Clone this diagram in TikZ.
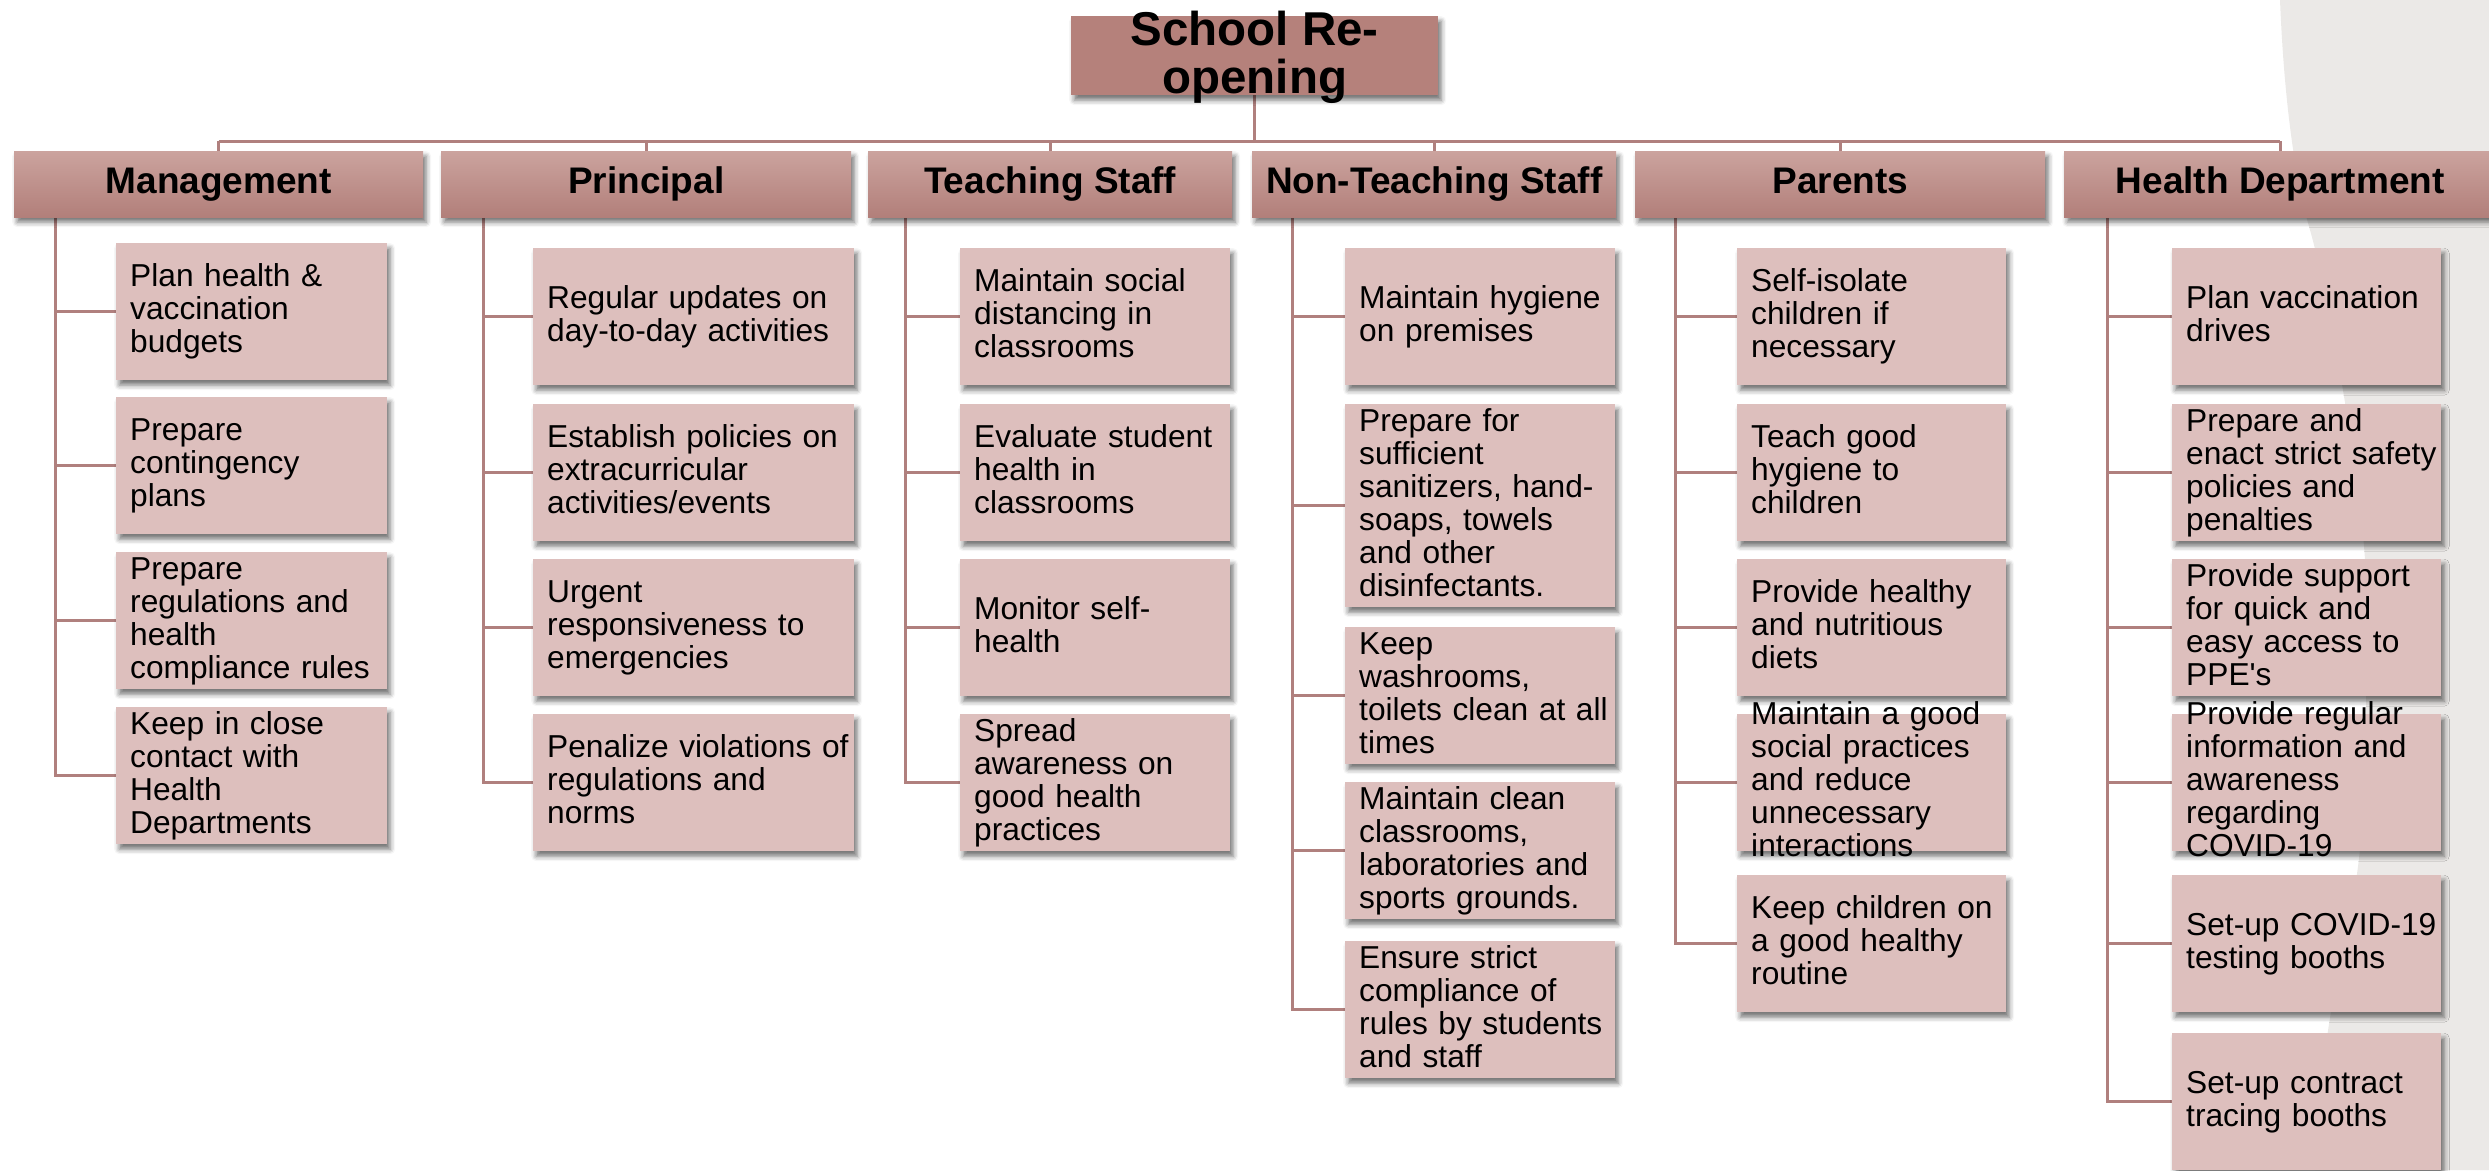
\documentclass[tikz,border=0pt]{standalone}
\usepackage{fontspec}
\setmainfont{Liberation Sans}
\usetikzlibrary{shadows.blur,calc,backgrounds}
\definecolor{hdtop}{RGB}{203,163,158}
\definecolor{hdbot}{RGB}{178,127,122}
\definecolor{ttlfill}{RGB}{181,129,123}
\definecolor{chfill}{RGB}{221,191,189}
\definecolor{lncol}{RGB}{176,128,126}
\definecolor{bggray}{RGB}{235,233,231}
\newcommand{\lnstrut}{\rule[-8.25pt]{0pt}{33pt}}
\newcommand{\ttlstrut}{\rule[-10.5pt]{0pt}{48pt}}
\tikzset{
  conn/.style={draw=lncol, line width=3pt},
  shad/.style={blur shadow={shadow xshift=3pt, shadow yshift=-5pt, shadow blur radius=5pt, shadow opacity=55}},
  chbox/.style={rectangle, fill=chfill, minimum height=137pt, inner sep=0pt, shad},
  chtext/.style={anchor=west, inner sep=0pt, text width=330pt, align=left, font=\fontsize{31.7}{33}\selectfont},
  hdr/.style={rectangle, top color=hdtop, bottom color=hdbot, minimum height=66pt, inner sep=0pt, anchor=north west, shad, font=\bfseries\fontsize{37}{40}\selectfont, text height=27pt, text depth=8pt},
  ttlbox/.style={rectangle, fill=ttlfill, minimum width=367pt, minimum height=79pt, inner sep=0pt, anchor=north west, shad},
  ttltext/.style={inner sep=0pt, align=center, font=\bfseries\fontsize{47.5}{48}\selectfont}
}
\newcommand{\mkchild}[5]{%
  \node[chbox, minimum width=#4pt, anchor=north west] (#1) at (#2,#3) {};
  \node[chtext] (#1t) at ([xshift=14pt]#1.west) {\lnstrut #5\lnstrut};
}
\begin{document}
\begin{tikzpicture}[x=1pt,y=-1pt]
\useasboundingbox (0,0) rectangle (2489,1170);
% title
\node[ttlbox] (title) at (1071,16) {};
\node[ttltext] (titlet) at (title.center) {\ttlstrut School Re-\\opening\ttlstrut};
% headers
\node[hdr, minimum width=409pt] (hM) at (14,151) {Management};
\node[hdr, minimum width=410pt] (hP) at (441,151) {Principal};
\node[hdr, minimum width=364pt] (hT) at (868,151) {Teaching Staff};
\node[hdr, minimum width=364pt] (hN) at (1252,151) {Non-Teaching Staff};
\node[hdr, minimum width=410pt] (hPa) at (1635,151) {Parents};
\node[hdr, minimum width=432pt] (hH) at (2064,151) {Health Department};
\coordinate (bus) at (0,141);
% Management
\mkchild{m1}{116}{243}{271}{Plan health \&\\vaccination\\budgets}
\mkchild{m2}{116}{397}{271}{Prepare\\contingency\\plans}
\mkchild{m3}{116}{552}{271}{Prepare\\regulations and\\health\\compliance rules}
\mkchild{m4}{116}{707}{271}{Keep in close\\contact with\\Health\\Departments}
% Principal
\mkchild{p1}{533}{248}{321}{Regular updates on\\day-to-day activities}
\mkchild{p2}{533}{404}{321}{Establish policies on\\extracurricular\\activities/events}
\mkchild{p3}{533}{559}{321}{Urgent\\responsiveness to\\emergencies}
\mkchild{p4}{533}{714}{321}{Penalize violations of\\regulations and\\norms}
% Teaching staff
\mkchild{t1}{960}{248}{270}{Maintain social\\distancing in\\classrooms}
\mkchild{t2}{960}{404}{270}{Evaluate student\\health in\\classrooms}
\mkchild{t3}{960}{559}{270}{Monitor self-\\health}
\mkchild{t4}{960}{714}{270}{Spread\\awareness on\\good health\\practices}
% Non-teaching staff
\mkchild{n1}{1345}{248}{270}{Maintain hygiene\\on premises}
\node[chbox, minimum width=270pt, minimum height=203pt, anchor=north west] (n2) at (1345,404) {};
\node[chtext] (n2t) at ([xshift=14pt]n2.west) {\lnstrut Prepare for\\sufficient\\sanitizers, hand-\\soaps, towels\\and other\\disinfectants.\lnstrut};
\mkchild{n3}{1345}{627}{270}{Keep\\washrooms,\\toilets clean at all\\times}
\mkchild{n4}{1345}{782}{270}{Maintain clean\\classrooms,\\laboratories and\\sports grounds.}
\mkchild{n5}{1345}{941}{270}{Ensure strict\\compliance of\\rules by students\\and staff}
% Parents
\mkchild{a1}{1737}{248}{269}{Self-isolate\\children if\\necessary}
\mkchild{a2}{1737}{404}{269}{Teach good\\hygiene to\\children}
\mkchild{a3}{1737}{559}{269}{Provide healthy\\and nutritious\\diets}
\mkchild{a4}{1737}{714}{269}{Maintain a good\\social practices\\and reduce\\unnecessary\\interactions}
\mkchild{a5}{1737}{875}{269}{Keep children on\\a good healthy\\routine}
% Health department
\mkchild{h1}{2172}{248}{269}{Plan vaccination\\drives}
\mkchild{h2}{2172}{404}{269}{Prepare and\\enact strict safety\\policies and\\penalties}
\mkchild{h3}{2172}{559}{269}{Provide support\\for quick and\\easy access to\\PPE\textquotesingle s}
\mkchild{h4}{2172}{714}{269}{Provide regular\\information and\\awareness\\regarding\\COVID-19}
\mkchild{h5}{2172}{875}{269}{Set-up COVID-19\\testing booths}
\mkchild{h6}{2172}{1033}{269}{Set-up contract\\tracing booths}
\begin{scope}[on background layer]
\fill[bggray] (2280,0) .. controls (2284,100) and (2295,180) .. (2310,230)
  .. controls (2330,300) and (2360,480) .. (2365,560)
  .. controls (2368,700) and (2366,820) .. (2356,880)
  .. controls (2340,960) and (2318,1060) .. (2315,1170)
  -- (2489,1170) -- (2489,0) -- cycle;
\draw[conn] (title.south) -- (title.south |- bus);
\draw[conn] (hM.north |- bus) -- (hH.north |- bus);
\foreach \h in {hM,hP,hT,hN,hPa,hH} {\draw[conn] (\h.north |- bus) -- (\h.north);}
\foreach \c in {m1,m2,m3,m4} {\draw[conn] ($(hM.south west)+(41,0)$) |- (\c.west);}
\foreach \c in {p1,p2,p3,p4} {\draw[conn] ($(hP.south west)+(42,0)$) |- (\c.west);}
\foreach \c in {t1,t2,t3,t4} {\draw[conn] ($(hT.south west)+(37,0)$) |- (\c.west);}
\foreach \c in {n1,n2,n3,n4,n5} {\draw[conn] ($(hN.south west)+(40,0)$) |- (\c.west);}
\foreach \c in {a1,a2,a3,a4,a5} {\draw[conn] ($(hPa.south west)+(40,0)$) |- (\c.west);}
\foreach \c in {h1,h2,h3,h4,h5,h6} {\draw[conn] ($(hH.south west)+(43,0)$) |- (\c.west);}
\end{scope}
\end{tikzpicture}
\end{document}
